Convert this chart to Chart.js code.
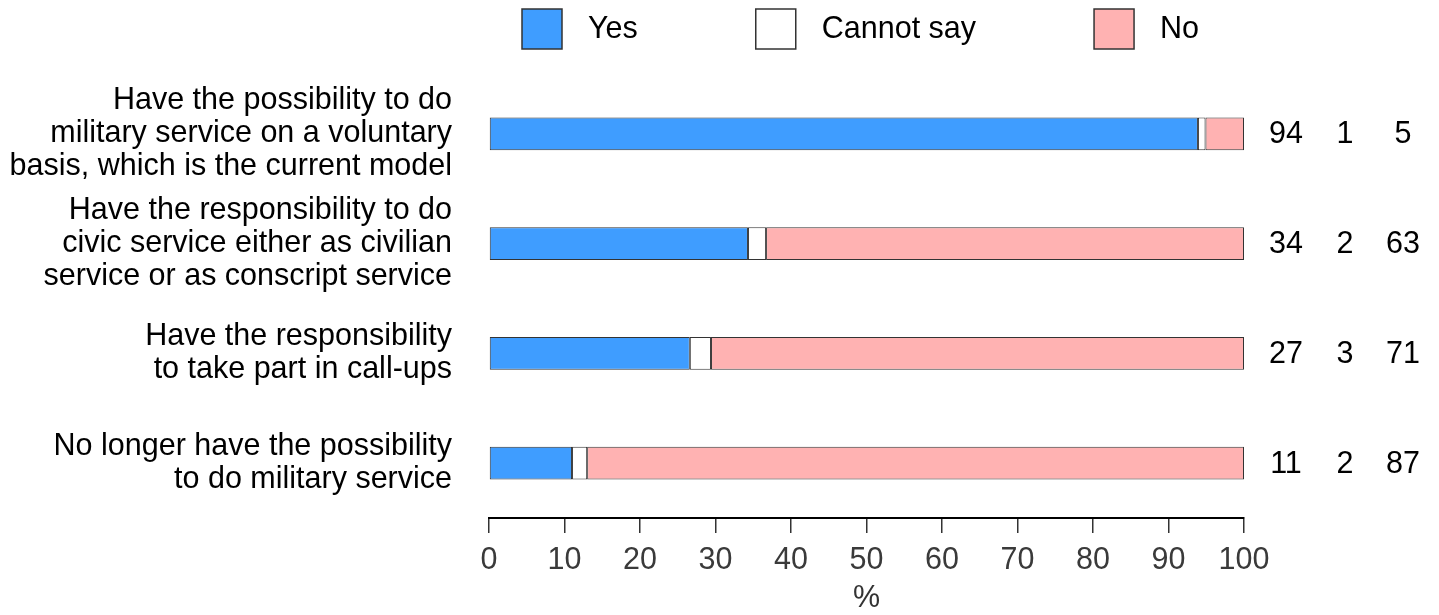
<!DOCTYPE html>
<html>
<head>
<meta charset="utf-8">
<script src="https://cdn.jsdelivr.net/npm/chart.js@4.4.1/dist/chart.umd.min.js"></script>
<style>
  html, body { margin: 0; padding: 0; background: #fff; }
  #wrap { width: 1439px; height: 615px; position: relative; }
</style>
</head>
<body>
<div id="wrap"><canvas id="chart"></canvas></div>
<script>
// Data
const categories = [
    ['Have the possibility to do', 'military service on a voluntary', 'basis, which is the current model'],
    ['Have the responsibility to do', 'civic service either as civilian', 'service or as conscript service'],
    ['Have the responsibility', 'to take part in call-ups'],
    ['No longer have the possibility', 'to do military service']
];
const seriesNames = ['Yes', 'Cannot say', 'No'];
const yesValues = [93.9, 34.3, 26.6, 11.0];
const cannotSayValues = [1.0, 2.4, 2.8, 2.0];
const noValues = [5.1, 63.3, 70.6, 87.0];
const xTicks = [0, 10, 20, 30, 40, 50, 60, 70, 80, 90, 100];

const colors = ['#3f9dff', '#ffffff', '#ffb2b2'];
const FONT = '"Liberation Sans", Arial, sans-serif';
const FONT_SIZE = 30.5;

Chart.defaults.font.family = FONT;
Chart.defaults.font.size = FONT_SIZE;
Chart.defaults.color = '#000';

// Legend drawn across the top, boxes with labels
const topLegend = {
    id: 'topLegend',
    afterDraw(chart) {
        const ctx = chart.ctx;
        const box = 40, gapText = 26, gapItem = 118;
        let x = chart.chartArea.left + 33;
        const y = 9;
        ctx.save();
        ctx.font = FONT_SIZE + 'px ' + FONT;
        ctx.textBaseline = 'middle';
        ctx.textAlign = 'left';
        chart.data.datasets.forEach(ds => {
            ctx.fillStyle = ds.backgroundColor;
            ctx.fillRect(x, y, box, box);
            ctx.strokeStyle = '#333';
            ctx.lineWidth = 1.5;
            ctx.strokeRect(x, y, box, box);
            ctx.fillStyle = '#000';
            ctx.fillText(ds.label, x + box + gapText, y + box / 2 + 1);
            x += box + gapText + ctx.measureText(ds.label).width + gapItem;
        });
        ctx.restore();
    }
};

// Rounded values in three columns right of the bars
const valueColumns = {
    id: 'valueColumns',
    afterDatasetsDraw(chart) {
        const ctx = chart.ctx;
        const offsets = [42, 101, 159];
        ctx.save();
        ctx.font = FONT_SIZE + 'px ' + FONT;
        ctx.fillStyle = '#000';
        ctx.textAlign = 'center';
        ctx.textBaseline = 'middle';
        chart.data.datasets.forEach((ds, i) => {
            const meta = chart.getDatasetMeta(i);
            meta.data.forEach((bar, j) => {
                ctx.fillText(String(Math.round(ds.data[j])), chart.chartArea.right + offsets[i], bar.y + 1);
            });
        });
        ctx.restore();
    }
};

const ctx = document.getElementById('chart');
new Chart(ctx, {
    type: 'bar',
    data: {
        labels: categories,
        datasets: [yesValues, cannotSayValues, noValues].map((vals, i) => ({
            label: seriesNames[i],
            data: vals,
            backgroundColor: colors[i],
            borderColor: '#333',
            borderWidth: 1,
            borderSkipped: false,
            barPercentage: 0.3,
            categoryPercentage: 1.0
        }))
    },
    options: {
        indexAxis: 'y',
        responsive: true,
        maintainAspectRatio: false,
        animation: false,
        layout: { padding: { top: 79, right: 195, bottom: 0, left: 0 } },
        plugins: {
            legend: { display: false },
            tooltip: { enabled: false }
        },
        scales: {
            x: {
                stacked: true,
                min: 0,
                max: 100,
                afterBuildTicks: scale => { scale.ticks = xTicks.map(v => ({ value: v })); },
                afterFit: scale => { scale.height = 97; },
                grid: {
                    drawOnChartArea: false,
                    drawTicks: true,
                    tickLength: 15,
                    color: '#333',
                    lineWidth: 1.5
                },
                border: { display: true, color: '#000', width: 2 },
                ticks: { color: '#3a3a3a', padding: 9, font: { size: FONT_SIZE } },
                title: {
                    display: true,
                    text: '%',
                    color: '#333',
                    font: { size: FONT_SIZE, lineHeight: 1.0 },
                    padding: { top: 2, bottom: 1 }
                }
            },
            y: {
                stacked: true,
                grid: { display: false, drawTicks: false },
                border: { display: false },
                ticks: { color: '#000', padding: 37, font: { size: FONT_SIZE, lineHeight: 1.082 } },
                afterFit: scale => { scale.width = 489; }
            }
        }
    },
    plugins: [topLegend, valueColumns]
});
</script>
</body>
</html>
